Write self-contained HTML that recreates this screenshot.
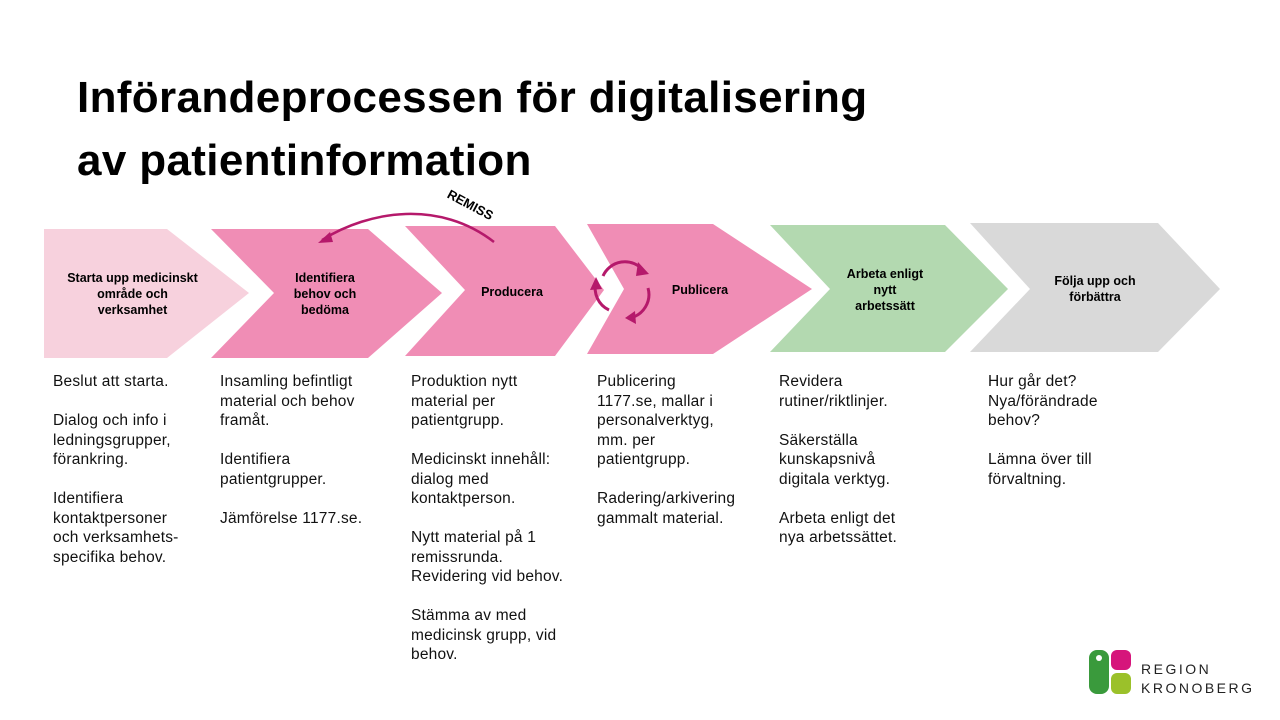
<!DOCTYPE html>
<html><head><meta charset="utf-8"><style>
body{margin:0;width:1280px;height:720px;background:#fff;overflow:hidden;font-family:"Liberation Sans",sans-serif;position:relative}
h1{position:absolute;left:77px;top:66px;margin:0;font-size:44px;line-height:63px;font-weight:bold;color:#000;letter-spacing:0.35px}
.col{position:absolute;top:372px;font-size:15.5px;line-height:19.5px;color:#111;letter-spacing:0.2px}
.col p{margin:0 0 19.5px 0}
.lab{position:absolute;font-size:12.5px;font-weight:bold;text-align:center;line-height:16px;color:#000}
</style></head><body>
<h1>Införandeprocessen för digitalisering<br>av patientinformation</h1>
<svg width="1280" height="720" style="position:absolute;left:0;top:0">
<polygon points="44,229 167,229 249,293 167,358 44,358" fill="#f7d1dd"/>
<polygon points="211,229 368,229 442,293 368,358 211,358 274,293" fill="#f08db5"/>
<polygon points="405,226 555,226 604,290 555,356 405,356 465,290" fill="#f08db5"/>
<polygon points="587,224 713,224 812,289 713,354 587,354 624,289" fill="#f08db5"/>
<polygon points="770,225 945,225 1008,289 945,352 770,352 830,289" fill="#b3d9b0"/>
<polygon points="970,223 1158,223 1220,289 1158,352 970,352 1030,289" fill="#d9d9d9"/>
<path d="M494,242 C440,200 370,210 322,240" fill="none" stroke="#b5196b" stroke-width="2.5"/>
<polygon points="318,243 330,232 333,242" fill="#b5196b"/>
<text x="440" y="208" font-size="13" font-weight="bold" transform="rotate(28 465 215)" font-family="Liberation Sans">REMISS</text>
<g fill="none" stroke="#b5196b" stroke-width="3">
<path d="M603,276 A24,24 0 0 1 643,270"/>
<path d="M648,288 A24,24 0 0 1 630,318"/>
<path d="M609,310 A24,24 0 0 1 596,282"/>
</g>
<g fill="#b5196b">
<polygon points="638,262 649,274 636,276"/>
<polygon points="625,318 635,311 636,324"/>
<polygon points="596,277 590,290 602,289"/>
</g>
<rect x="1089" y="650" width="20" height="44" rx="8" fill="#3a9a3c"/>
<rect x="1111" y="650" width="20" height="20" rx="6" fill="#d6157b"/>
<rect x="1111" y="673" width="20" height="21" rx="6" fill="#9bc12a"/>
<circle cx="1099" cy="658" r="3" fill="#fff"/>
<text x="1141" y="674" font-size="14" letter-spacing="2.5" fill="#222" font-family="Liberation Sans">REGION</text>
<text x="1141" y="693" font-size="14" letter-spacing="2.5" fill="#222" font-family="Liberation Sans">KRONOBERG</text>
</svg>
<div class="lab" style="left:50px;top:270px;width:165px">Starta upp medicinskt<br>område och<br>verksamhet</div>
<div class="lab" style="left:270px;top:270px;width:110px">Identifiera<br>behov och<br>bedöma</div>
<div class="lab" style="left:462px;top:284px;width:100px">Producera</div>
<div class="lab" style="left:650px;top:282px;width:100px">Publicera</div>
<div class="lab" style="left:830px;top:266px;width:110px">Arbeta enligt<br>nytt<br>arbetssätt</div>
<div class="lab" style="left:1040px;top:273px;width:110px">Följa upp och<br>förbättra</div>
<div class="col" style="left:53px"><p>Beslut att starta.</p><p>Dialog och info i<br>ledningsgrupper,<br>förankring.</p><p>Identifiera<br>kontaktpersoner<br>och verksamhets-<br>specifika behov.</p></div>
<div class="col" style="left:220px"><p>Insamling befintligt<br>material och behov<br>framåt.</p><p>Identifiera<br>patientgrupper.</p><p>Jämförelse 1177.se.</p></div>
<div class="col" style="left:411px"><p>Produktion nytt<br>material per<br>patientgrupp.</p><p>Medicinskt innehåll:<br>dialog med<br>kontaktperson.</p><p>Nytt material på 1<br>remissrunda.<br>Revidering vid behov.</p><p>Stämma av med<br>medicinsk grupp, vid<br>behov.</p></div>
<div class="col" style="left:597px"><p>Publicering<br>1177.se, mallar i<br>personalverktyg,<br>mm. per<br>patientgrupp.</p><p>Radering/arkivering<br>gammalt material.</p></div>
<div class="col" style="left:779px"><p>Revidera<br>rutiner/riktlinjer.</p><p>Säkerställa<br>kunskapsnivå<br>digitala verktyg.</p><p>Arbeta enligt det<br>nya arbetssättet.</p></div>
<div class="col" style="left:988px"><p>Hur går det?<br>Nya/förändrade<br>behov?</p><p>Lämna över till<br>förvaltning.</p></div>
</body></html>
